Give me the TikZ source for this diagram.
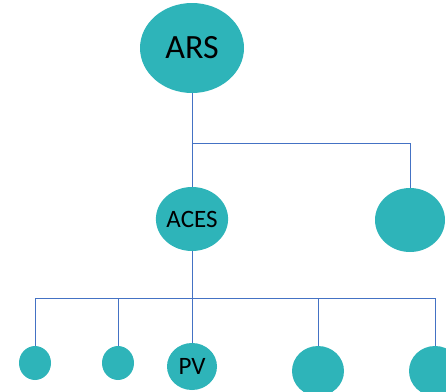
\documentclass[tikz,border=0pt]{standalone}
\usepackage{fontspec}
\setmainfont{Carlito}
\usetikzlibrary{shapes.geometric,positioning,calc}
\definecolor{tealfill}{RGB}{46,180,185}
\definecolor{linkblue}{RGB}{68,114,196}
\tikzset{
  member/.style={ellipse, fill=tealfill, inner sep=0pt, text=black},
  link/.style={draw=linkblue, line width=0.9pt}
}
\begin{document}
\begin{tikzpicture}[x=1pt,y=-1pt]
	\useasboundingbox (0,0) rectangle (446,391);

	% top level
	\node[member, minimum width=104pt, minimum height=90pt, font=\fontsize{34}{36}\selectfont] (ars) at (192,48) {ARS};

	% second level
	\node[member, minimum width=70pt, minimum height=64pt, font=\fontsize{25}{27}\selectfont] (aces) at (192,219) {ACES};
	\node[member, minimum width=70pt, minimum height=64pt] (right) at (410,220) {};

	% third level
	\node[member, minimum width=32pt, minimum height=34pt] (b1) at (35,363) {};
	\node[member, minimum width=32pt, minimum height=34pt] (b2) at (118,363) {};
	\node[member, minimum width=50pt, minimum height=47pt, font=\fontsize{25}{27}\selectfont] (pv) at (192,366.5) {PV};
	\node[member, minimum width=52pt, minimum height=50pt] (b4) at (318,371) {};
	\node[member, minimum width=52pt, minimum height=50pt] (b5) at (435,371) {};

	% connectors
	\coordinate (topbus) at (192,143);
	\coordinate (lowbus) at (192,298);
	\draw[link] (ars.south) -- (topbus) -| (right.north);
	\draw[link] (topbus) -- (aces.north);
	\draw[link] (aces.south) -- (lowbus);
	\draw[link] (lowbus) -| (b1.north);
	\draw[link] (lowbus) -| (b2.north);
	\draw[link] (lowbus) -- (pv.north);
	\draw[link] (lowbus) -| (b4.north);
	\draw[link] (lowbus) -| (b5.north);
\end{tikzpicture}
\end{document}
